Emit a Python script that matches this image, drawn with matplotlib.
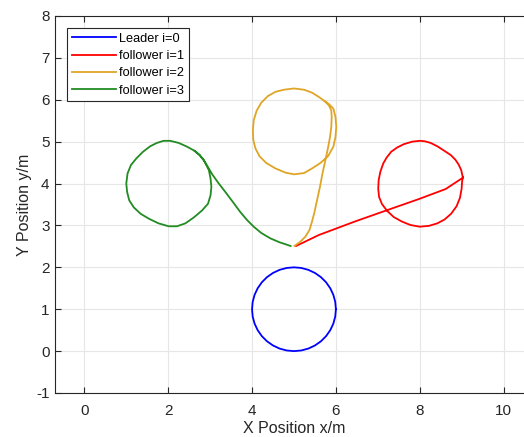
import matplotlib
matplotlib.use("Agg")
import matplotlib.pyplot as plt

plt.rcParams['font.family'] = ['Liberation Sans', 'DejaVu Sans']
plt.rcParams['axes.unicode_minus'] = False

# Leader trajectory (circle around (5,1))
leader_x = [6.000, 5.985, 5.940, 5.866, 5.766, 5.643, 5.500, 5.342, 5.174, 5.000,
            4.826, 4.658, 4.500, 4.357, 4.234, 4.134, 4.060, 4.015, 4.000,
            4.015, 4.060, 4.134, 4.234, 4.357, 4.500, 4.658, 4.826, 5.000,
            5.174, 5.342, 5.500, 5.643, 5.766, 5.866, 5.940, 5.985, 6.000]
leader_y = [1.000, 1.174, 1.342, 1.500, 1.643, 1.766, 1.866, 1.940, 1.985, 2.000,
            1.985, 1.940, 1.866, 1.766, 1.643, 1.500, 1.342, 1.174, 1.000,
            0.826, 0.658, 0.500, 0.357, 0.234, 0.134, 0.060, 0.015, 0.000,
            0.015, 0.060, 0.134, 0.234, 0.357, 0.500, 0.658, 0.826, 1.000]

# Follower 1 (red)
f1_x = [5.05, 5.30, 5.59, 5.99, 6.47, 7.18, 7.98, 8.62, 9.03,
        8.99, 8.93, 8.85, 8.74, 8.59, 8.42, 8.26, 8.12, 8.00, 7.82, 7.62, 7.46,
        7.32, 7.21, 7.13, 7.06, 7.02, 7.01, 7.03, 7.10, 7.22, 7.38, 7.58, 7.78,
        8.00, 8.22, 8.42, 8.59, 8.75, 8.88, 8.96, 9.00, 9.01, 9.03]
f1_y = [2.51, 2.63, 2.77, 2.92, 3.10, 3.35, 3.63, 3.87, 4.14,
        4.32, 4.45, 4.57, 4.68, 4.78, 4.89, 4.97, 5.01, 5.02, 5.00, 4.94, 4.86,
        4.76, 4.62, 4.48, 4.28, 4.08, 3.88, 3.68, 3.51, 3.35, 3.20, 3.09, 3.01,
        2.97, 2.99, 3.05, 3.14, 3.28, 3.46, 3.66, 3.88, 4.04, 4.16]

# Follower 2 (orange)
f2_x = [5.01, 5.15, 5.27, 5.37, 5.43, 5.49, 5.55, 5.62, 5.68, 5.75, 5.81,
        5.86, 5.89, 5.90, 5.89, 5.83, 5.73,
        5.59, 5.43, 5.24, 5.00, 4.76, 4.56, 4.38, 4.22, 4.11, 4.04, 4.02,
        4.03, 4.08, 4.18, 4.34, 4.56, 4.80, 5.00, 5.24, 5.43, 5.63, 5.81,
        5.94, 5.99, 6.01, 5.99, 5.94, 5.83, 5.73]
f2_y = [2.51, 2.61, 2.73, 2.89, 3.09, 3.32, 3.60, 3.92, 4.24, 4.56, 4.84,
        5.11, 5.35, 5.59, 5.75, 5.87, 5.97,
        6.07, 6.17, 6.24, 6.27, 6.24, 6.19, 6.09, 5.93, 5.74, 5.51, 5.27,
        5.04, 4.84, 4.65, 4.49, 4.36, 4.26, 4.22, 4.25, 4.36, 4.49, 4.65,
        4.88, 5.11, 5.35, 5.59, 5.79, 5.90, 5.97]

# Follower 3 (green)
f3_x = [4.92, 4.65, 4.44, 4.22, 4.04, 3.88, 3.72, 3.55, 3.37, 3.20, 3.05,
        2.95, 2.86,
        2.75, 2.63, 2.45, 2.25, 2.05, 1.89, 1.73, 1.57, 1.40, 1.24, 1.11,
        1.03, 1.00, 1.02, 1.07, 1.18, 1.34, 1.54, 1.77, 2.01, 2.21, 2.41,
        2.61, 2.81, 2.95, 3.01, 3.03, 3.01, 2.97, 2.91, 2.85, 2.75, 2.63]
f3_y = [2.51, 2.60, 2.69, 2.82, 2.97, 3.13, 3.32, 3.55, 3.79, 4.01, 4.22,
        4.39, 4.54,
        4.68, 4.78, 4.88, 4.97, 5.02, 5.02, 4.97, 4.89, 4.76, 4.60, 4.44,
        4.24, 4.00, 3.80, 3.60, 3.43, 3.28, 3.16, 3.05, 2.98, 2.98, 3.05,
        3.19, 3.36, 3.52, 3.72, 3.92, 4.12, 4.32, 4.44, 4.56, 4.68, 4.78]

labels = ['Leader i=0', 'follower i=1', 'follower i=2', 'follower i=3']
colors = ['#0000FF', '#FF0000', '#E0A526', '#228B22']

x_ticks = [0, 2, 4, 6, 8, 10]
y_ticks = [-1, 0, 1, 2, 3, 4, 5, 6, 7, 8]

fig = plt.figure(figsize=(5.24, 4.37), dpi=100)
ax = fig.add_axes([0.105, 0.1007, 0.912, 0.8627])

series = [(leader_x, leader_y), (f1_x, f1_y), (f2_x, f2_y), (f3_x, f3_y)]
for (xs, ys), lab, col in zip(series, labels, colors):
    ax.plot(xs, ys, color=col, lw=1.3, label=lab, solid_joinstyle='round')

ax.set_xlim(-0.7, 10.7)
ax.set_ylim(-1, 8)
ax.set_xticks(x_ticks)
ax.set_yticks(y_ticks)
ax.grid(True, color='#E6E6E6', lw=0.8)
ax.set_axisbelow(True)
ax.tick_params(direction='in', length=4, width=0.8, colors='#262626',
               labelsize=11, top=True, right=True)
ax.tick_params(axis='x', pad=8)
ax.tick_params(axis='y', pad=4)
for s in ax.spines.values():
    s.set_color('#262626')
    s.set_linewidth(0.8)

ax.set_xlabel('X Position x/m', fontsize=11.5, color='#262626', labelpad=2)
ax.set_ylabel('Y Position y/m', fontsize=11.5, color='#262626', labelpad=3)

leg = ax.legend(loc='upper left', fontsize=9.2, frameon=True, fancybox=False,
                edgecolor='#262626', framealpha=1, handlelength=3.45,
                borderaxespad=0.97, labelspacing=0.41, handletextpad=0.26,
                borderpad=0.35)
leg.get_frame().set_linewidth(0.8)

fig.savefig('out.png', dpi=100)
